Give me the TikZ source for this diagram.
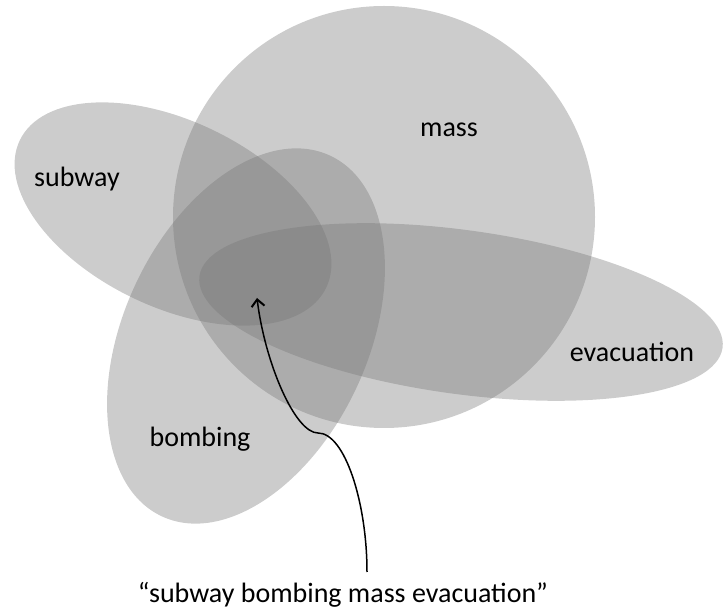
\documentclass[tikz,border=0pt]{standalone}
\usepackage{fontspec}
\setmainfont{Carlito}
\usetikzlibrary{arrows.meta}
\tikzset{blob/.style={fill=black!54, fill opacity=0.37},
  word/.style={anchor=base, font=\fontsize{28}{34}\selectfont}}

\begin{document}
\begin{tikzpicture}[x=1pt, y=1pt]
  \useasboundingbox (0, 0) rectangle (723, 613);
  \fill [blob] (384, 396) circle (211);
  \fill [blob, rotate around={-25.7:(173, 399)}] (173, 399) ellipse (170 and 93);
  \fill [blob, rotate around={65:(246, 277)}] (246, 277) ellipse (199 and 122);
  \fill [blob, rotate around={-7.8:(461, 301)}] (461, 301) ellipse (264 and 82);
  \node [word] (M) at (449, 476) {mass};
  \node [word] (S) at (77, 426) {subway};
  \node [word] (B) at (200, 166) {bombing};
  \node [word] (E) at (632, 251) {evacuation};
  \node [word] (Q) at (343, 10) {``subway bombing mass evacuation''};
  \coordinate (tail) at (367, 41);
  \coordinate (kink) at (318, 180);
  \coordinate (core) at (257, 315);
  \draw [-{Straight Barb[length=7pt, width=13pt, line width=2pt]}, line width = 1.5pt]
    (tail) .. controls (367, 110) and (345, 180) .. (kink)
    .. controls (295, 180) and (265, 250) .. (core);
\end{tikzpicture}
\end{document}
